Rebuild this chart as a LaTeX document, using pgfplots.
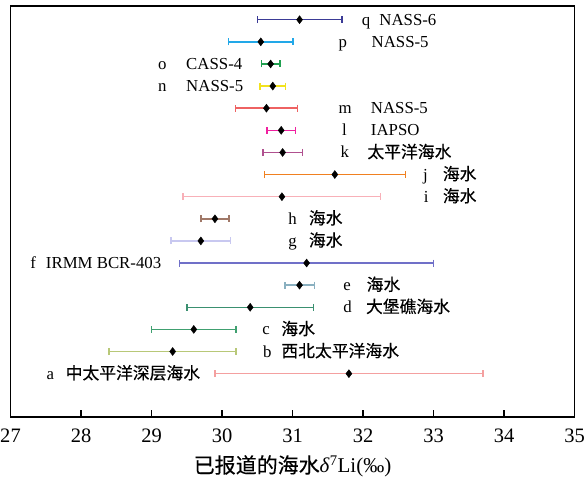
\documentclass[border=0pt]{standalone}
\usepackage{fontspec}
\setmainfont{Liberation Serif}
\newfontfamily\cjk{Noto Sans CJK SC}[FakeBold=0.4]
\usepackage{pgfplots}
\pgfplotsset{compat=1.18}
\definecolor{cq}{HTML}{3B3B96}
\definecolor{cp}{HTML}{22A8E8}
\definecolor{co}{HTML}{20A050}
\definecolor{cn}{HTML}{F2E21E}
\definecolor{cm}{HTML}{EE6262}
\definecolor{cl}{HTML}{F020A0}
\definecolor{ck}{HTML}{B0508F}
\definecolor{cj}{HTML}{F08020}
\definecolor{ci}{HTML}{F8B0B8}
\definecolor{ch}{HTML}{A07868}
\definecolor{cg}{HTML}{C8C8F0}
\definecolor{cf}{HTML}{7070C8}
\definecolor{ce}{HTML}{8AB0C0}
\definecolor{cd}{HTML}{3A9070}
\definecolor{cc}{HTML}{40A070}
\definecolor{cb}{HTML}{B8C878}
\definecolor{ca}{HTML}{F4A0A0}
\pgfplotsset{
  eb/.style={color=#1, solid, only marks, mark=diamond*, mark size=4pt,
    mark options={black, fill=black, solid},
    error bars/.cd, x dir=both, x explicit, error mark=|,
    error bar style={line width=1.5pt, color=#1, solid},
    error mark options={mark size=3.5pt, line width=1.5pt, color=#1, solid}},
}
\tikzset{lab/.style={anchor=base west, inner sep=0pt, yshift=-5.5pt, font=\fontsize{16.8}{19}\selectfont}}
\begin{document}
\begin{tikzpicture}
\begin{axis}[
  scale only axis, width=564pt, height=411pt,
  xmin=27, xmax=35, ymin=-1.96, ymax=16.62,
  xtick={27,28,...,35}, ytick=\empty,
  xtick pos=bottom, tick align=inside,
  major tick length=7pt,
  axis line style={line width=1.1pt}, tick style={line width=1.1pt, black},
  /pgf/number format/assume math mode=true,
  ticklabel style={font=\fontsize{20.5}{24}\selectfont},
  xticklabel style={yshift=-8pt},
  xlabel={{\cjk 已报道的海水}\textit{δ}\textsuperscript{7}Li(‰)},
  xlabel style={font=\fontsize{21}{24}\selectfont, yshift=-6pt},
  clip=false,
]
\addplot[eb=ca] coordinates {(31.8,0) +- (1.9,0)};
\addplot[eb=cb] coordinates {(29.3,1) +- (0.9,0)};
\addplot[eb=cc] coordinates {(29.6,2) +- (0.6,0)};
\addplot[eb=cd] coordinates {(30.4,3) +- (0.9,0)};
\addplot[eb=ce] coordinates {(31.1,4) +- (0.21,0)};
\addplot[eb=cf] coordinates {(31.2,5) +- (1.8,0)};
\addplot[eb=cg] coordinates {(29.7,6) +- (0.42,0)};
\addplot[eb=ch] coordinates {(29.9,7) +- (0.2,0)};
\addplot[eb=ci] coordinates {(30.85,8) +- (1.4,0)};
\addplot[eb=cj] coordinates {(31.6,9) +- (1.0,0)};
\addplot[eb=ck] coordinates {(30.86,10) +- (0.28,0)};
\addplot[eb=cl] coordinates {(30.84,11) +- (0.2,0)};
\addplot[eb=cm] coordinates {(30.63,12) +- (0.44,0)};
\addplot[eb=cn] coordinates {(30.72,13) +- (0.18,0)};
\addplot[eb=co] coordinates {(30.69,14) +- (0.13,0)};
\addplot[eb=cp] coordinates {(30.55,15) +- (0.46,0)};
\addplot[eb=cq] coordinates {(31.1,16) +- (0.6,0)};

\node[lab] at (axis cs:27.51,0) {a};  \node[lab] at (axis cs:27.78,0) {\cjk 中太平洋深层海水};
\node[lab] at (axis cs:30.58,1) {b};  \node[lab] at (axis cs:30.84,1) {\cjk 西北太平洋海水};
\node[lab] at (axis cs:30.57,2) {c};  \node[lab] at (axis cs:30.84,2) {\cjk 海水};
\node[lab] at (axis cs:31.72,3) {d};  \node[lab] at (axis cs:32.04,3) {\cjk 大堡礁海水};
\node[lab] at (axis cs:31.72,4) {e};  \node[lab] at (axis cs:32.05,4) {\cjk 海水};
\node[lab] at (axis cs:27.28,5) {f};  \node[lab] at (axis cs:27.50,5) {IRMM BCR-403};
\node[lab] at (axis cs:30.94,6) {g};  \node[lab] at (axis cs:31.23,6) {\cjk 海水};
\node[lab] at (axis cs:30.94,7) {h};  \node[lab] at (axis cs:31.23,7) {\cjk 海水};
\node[lab] at (axis cs:32.86,8) {i};  \node[lab] at (axis cs:33.13,8) {\cjk 海水};
\node[lab] at (axis cs:32.85,9) {j};  \node[lab] at (axis cs:33.13,9) {\cjk 海水};
\node[lab] at (axis cs:31.68,10) {k}; \node[lab] at (axis cs:32.06,10) {\cjk 太平洋海水};
\node[lab] at (axis cs:31.70,11) {l}; \node[lab] at (axis cs:32.11,11) {IAPSO};
\node[lab] at (axis cs:31.65,12) {m}; \node[lab] at (axis cs:32.11,12) {NASS-5};
\node[lab] at (axis cs:29.09,13) {n}; \node[lab] at (axis cs:29.49,13) {NASS-5};
\node[lab] at (axis cs:29.09,14) {o}; \node[lab] at (axis cs:29.49,14) {CASS-4};
\node[lab] at (axis cs:31.65,15) {p}; \node[lab] at (axis cs:32.12,15) {NASS-5};
\node[lab] at (axis cs:31.98,16) {q}; \node[lab] at (axis cs:32.23,16) {NASS-6};
\end{axis}
\pgfresetboundingbox
\path ([xshift=-10.5pt,yshift=6pt]current axis.north west) rectangle ([xshift=10.5pt,yshift=-70pt]current axis.south east);
\end{tikzpicture}
\end{document}
